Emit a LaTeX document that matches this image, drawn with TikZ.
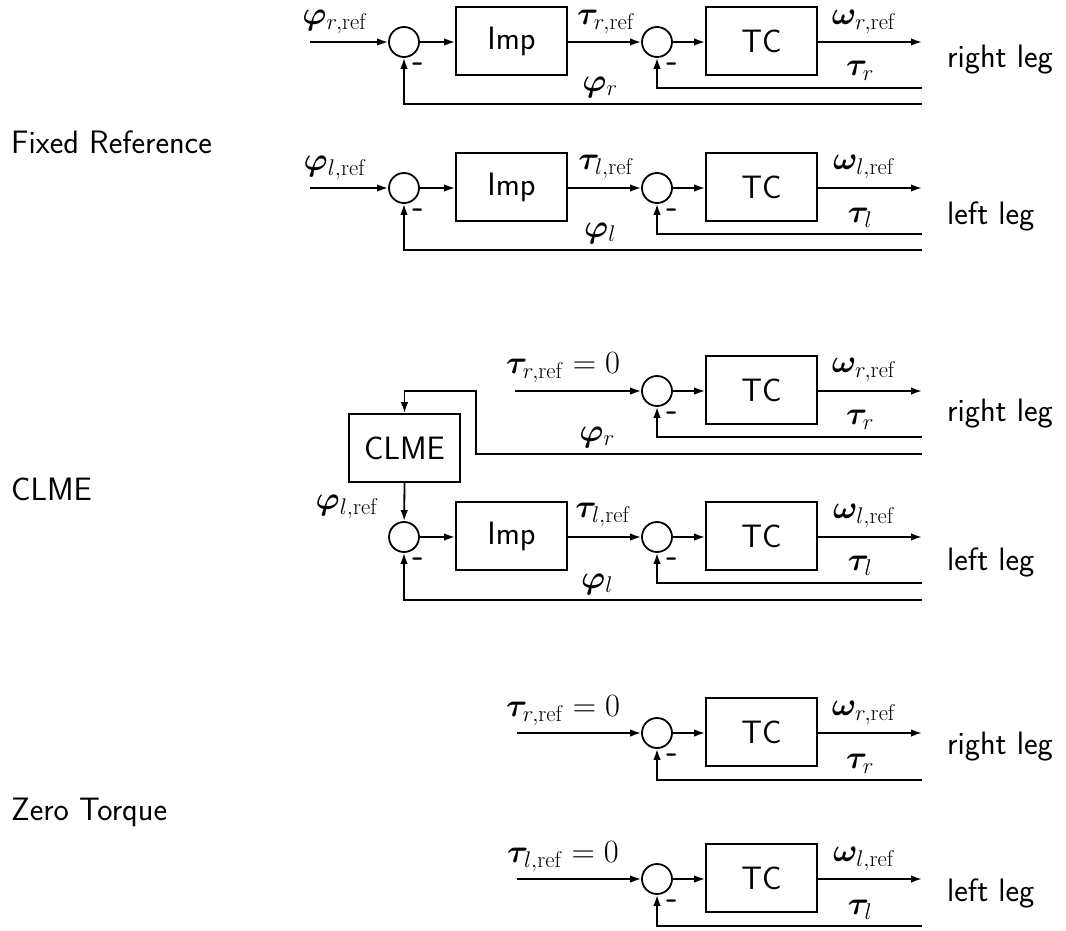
\RequirePackage{fix-cm}
\documentclass[tikz,border=0pt]{standalone}
\usepackage{amsmath,bm}
\usetikzlibrary{arrows.meta}
\newcommand{\fsz}{\fontsize{32.4}{39}\selectfont}
\tikzset{
  blk/.style={draw, line width=1.8pt, minimum width=111pt, minimum height=68pt, inner sep=0pt},
  sumc/.style={draw, circle, line width=1.8pt, minimum size=30pt, inner sep=0pt},
  sig/.style={line width=1.8pt, -{Latex[length=11pt,width=7.5pt]}},
  lbl/.style={inner sep=0pt},
  lgl/.style={inner sep=0pt, anchor=west},
  mns/.style={inner sep=0pt, font=\sffamily\bfseries\fsz},
}
\begin{document}
\begin{tikzpicture}[x=1pt,y=-1pt, every node/.style={font=\sffamily\fsz}]
\useasboundingbox (0,0) rectangle (1066,931);

% ---------- Fixed Reference ----------
\node[lgl] (t-fix) at (11,142) {Fixed Reference};

% right leg row (y=42)
\coordinate (a-in) at (310,42);
\node[sumc] (a-s1) at (404,42) {};
\node[blk] (a-imp) at (511.5,41) {Imp};
\node[sumc] (a-s2) at (657,42) {};
\node[blk] (a-tc) at (761.5,41) {TC};
\coordinate (a-out) at (922,42);
\coordinate (a-fi) at (922,88);
\coordinate (a-fo) at (922,104);
\draw[sig] (a-in) -- (a-s1);
\draw[sig] (a-s1) -- (a-imp.west |- a-s1);
\draw[sig] (a-imp.east |- a-s1) -- (a-s2);
\draw[sig] (a-s2) -- (a-tc.west |- a-s2);
\draw[sig] (a-tc.east |- a-s2) -- (a-out);
\draw[sig] (a-fi) -| (a-s2);
\draw[sig] (a-fo) -| (a-s1);
\node[lbl] (a-l1) at (335,22) {$\bm{\varphi}_{r,\mathrm{ref}}$};
\node[lbl] (a-l2) at (606,22) {$\bm{\tau}_{r,\mathrm{ref}}$};
\node[lbl] (a-l3) at (864,22) {$\bm{\omega}_{r,\mathrm{ref}}$};
\node[lbl] (a-l4) at (860,71) {$\bm{\tau}_{r}$};
\node[lbl] (a-l5) at (600,87) {$\bm{\varphi}_{r}$};
\node[mns] (a-m1) at (418,67) {-};
\node[mns] (a-m2) at (672,67) {-};
\node[lgl] (a-leg) at (947,60) {right leg};

% left leg row (y=188)
\coordinate (b-in) at (310,188);
\node[sumc] (b-s1) at (404,188) {};
\node[blk] (b-imp) at (511.5,187) {Imp};
\node[sumc] (b-s2) at (657,188) {};
\node[blk] (b-tc) at (761.5,187) {TC};
\coordinate (b-out) at (922,188);
\coordinate (b-fi) at (922,234);
\coordinate (b-fo) at (922,250);
\draw[sig] (b-in) -- (b-s1);
\draw[sig] (b-s1) -- (b-imp.west |- b-s1);
\draw[sig] (b-imp.east |- b-s1) -- (b-s2);
\draw[sig] (b-s2) -- (b-tc.west |- b-s2);
\draw[sig] (b-tc.east |- b-s2) -- (b-out);
\draw[sig] (b-fi) -| (b-s2);
\draw[sig] (b-fo) -| (b-s1);
\node[lbl] (b-l1) at (335,168) {$\bm{\varphi}_{l,\mathrm{ref}}$};
\node[lbl] (b-l2) at (606,167) {$\bm{\tau}_{l,\mathrm{ref}}$};
\node[lbl] (b-l3) at (864,167) {$\bm{\omega}_{l,\mathrm{ref}}$};
\node[lbl] (b-l4) at (860,218) {$\bm{\tau}_{l}$};
\node[lbl] (b-l5) at (600,233) {$\bm{\varphi}_{l}$};
\node[mns] (b-m1) at (418,213) {-};
\node[mns] (b-m2) at (672,213) {-};
\node[lgl] (b-leg) at (947,216) {left leg};

% ---------- CLME ----------
\node[lgl] (t-clme) at (11,489) {CLME};

% right leg row (y=391)
\coordinate (c-in) at (515,391);
\node[sumc] (c-s2) at (657,391) {};
\node[blk] (c-tc) at (761.5,390) {TC};
\coordinate (c-out) at (922,391);
\coordinate (c-fi) at (922,437);
\coordinate (c-fo) at (922,454);
\coordinate (c-cr) at (476,391);
\draw[sig] (c-in) -- (c-s2);
\draw[sig] (c-s2) -- (c-tc.west |- c-s2);
\draw[sig] (c-tc.east |- c-s2) -- (c-out);
\draw[sig] (c-fi) -| (c-s2);
\node[lbl] (c-l0) at (563,368) {$\bm{\tau}_{r,\mathrm{ref}}=0$};
\node[lbl] (c-l3) at (864,370) {$\bm{\omega}_{r,\mathrm{ref}}$};
\node[lbl] (c-l4) at (860,420) {$\bm{\tau}_{r}$};
\node[lbl] (c-l5) at (597,437) {$\bm{\varphi}_{r}$};
\node[mns] (c-m2) at (672,416) {-};
\node[lgl] (c-leg) at (947,414) {right leg};

% CLME block
\node[blk] (clme) at (404.5,448) {CLME};
\draw[sig] (c-fo) -| (c-cr) -| (clme.north);

% left leg row (y=537)
\node[sumc] (d-s1) at (404,537) {};
\node[blk] (d-imp) at (511.5,536) {Imp};
\node[sumc] (d-s2) at (657,537) {};
\node[blk] (d-tc) at (761.5,536) {TC};
\coordinate (d-out) at (922,537);
\coordinate (d-fi) at (922,583);
\coordinate (d-fo) at (922,600);
\draw[sig] (clme.south) -- (d-s1);
\draw[sig] (d-s1) -- (d-imp.west |- d-s1);
\draw[sig] (d-imp.east |- d-s1) -- (d-s2);
\draw[sig] (d-s2) -- (d-tc.west |- d-s2);
\draw[sig] (d-tc.east |- d-s2) -- (d-out);
\draw[sig] (d-fi) -| (d-s2);
\draw[sig] (d-fo) -| (d-s1);
\node[lbl] (d-l1) at (347,507) {$\bm{\varphi}_{l,\mathrm{ref}}$};
\node[lbl] (d-l2) at (603,515) {$\bm{\tau}_{l,\mathrm{ref}}$};
\node[lbl] (d-l3) at (864,516) {$\bm{\omega}_{l,\mathrm{ref}}$};
\node[lbl] (d-l4) at (860,566) {$\bm{\tau}_{l}$};
\node[lbl] (d-l5) at (597,584) {$\bm{\varphi}_{l}$};
\node[mns] (d-m1) at (418,562) {-};
\node[mns] (d-m2) at (672,562) {-};
\node[lgl] (d-leg) at (947,562) {left leg};

% ---------- Zero Torque ----------
\node[lgl] (t-zero) at (11,812) {Zero Torque};

% right leg row (y=733)
\coordinate (e-in) at (517,733);
\node[sumc] (e-s2) at (657,733) {};
\node[blk] (e-tc) at (761.5,732) {TC};
\coordinate (e-out) at (922,733);
\coordinate (e-fi) at (922,780);
\draw[sig] (e-in) -- (e-s2);
\draw[sig] (e-s2) -- (e-tc.west |- e-s2);
\draw[sig] (e-tc.east |- e-s2) -- (e-out);
\draw[sig] (e-fi) -| (e-s2);
\node[lbl] (e-l0) at (563,711) {$\bm{\tau}_{r,\mathrm{ref}}=0$};
\node[lbl] (e-l3) at (864,713) {$\bm{\omega}_{r,\mathrm{ref}}$};
\node[lbl] (e-l4) at (860,764) {$\bm{\tau}_{r}$};
\node[mns] (e-m2) at (672,758) {-};
\node[lgl] (e-leg) at (947,747) {right leg};

% left leg row (y=879)
\coordinate (f-in) at (517,879);
\node[sumc] (f-s2) at (657,879) {};
\node[blk] (f-tc) at (761.5,878) {TC};
\coordinate (f-out) at (922,879);
\coordinate (f-fi) at (922,926);
\draw[sig] (f-in) -- (f-s2);
\draw[sig] (f-s2) -- (f-tc.west |- f-s2);
\draw[sig] (f-tc.east |- f-s2) -- (f-out);
\draw[sig] (f-fi) -| (f-s2);
\node[lbl] (f-l0) at (563,857) {$\bm{\tau}_{l,\mathrm{ref}}=0$};
\node[lbl] (f-l3) at (864,859) {$\bm{\omega}_{l,\mathrm{ref}}$};
\node[lbl] (f-l4) at (860,910) {$\bm{\tau}_{l}$};
\node[mns] (f-m2) at (672,904) {-};
\node[lgl] (f-leg) at (947,893) {left leg};
\end{tikzpicture}
\end{document}
